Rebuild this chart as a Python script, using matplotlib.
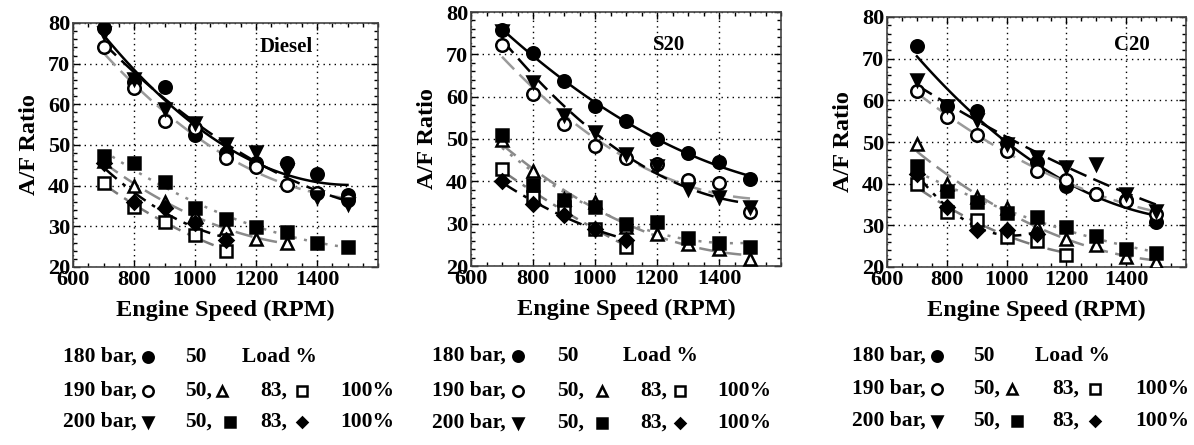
import numpy as np
import matplotlib.pyplot as plt
from matplotlib.lines import Line2D
from matplotlib.ticker import MultipleLocator

plt.rcParams["font.family"] = ["Liberation Serif", "DejaVu Serif"]
plt.rcParams["font.weight"] = "bold"

W, H = 1194, 445

# engine speed points
rpm_full = [700, 800, 900, 1000, 1100, 1200, 1300, 1400, 1500]
rpm_low = [700, 800, 900, 1000, 1100]
rpm_c20_sq = [700, 800, 900, 1000, 1100, 1200]

# Diesel
diesel_180_50 = [78.8, 65.5, 64.2, 52.5, 48.0, 45.5, 45.5, 42.9, 37.7]
diesel_190_50 = [74.0, 64.0, 55.8, 54.1, 46.7, 44.7, 40.1, 38.3, 36.5]
diesel_200_50 = [77.5, 66.2, 58.8, 55.3, 50.3, 48.4, 43.8, 37.3, 35.6]
diesel_190_83 = [46.0, 40.0, 36.0, 32.8, 29.6, 27.0, 25.8]
diesel_190_100 = [40.7, 34.8, 31.1, 27.8, 24.0]
diesel_200_83 = [47.3, 45.5, 41.0, 34.4, 31.9, 29.9, 28.6, 25.9, 24.8]
diesel_200_100 = [45.5, 36.0, 34.4, 30.7, 26.6]

# S20
s20_180_50 = [75.8, 70.4, 63.6, 57.7, 54.3, 49.9, 46.7, 44.6, 40.5]
s20_190_50 = [72.1, 60.7, 53.5, 48.3, 45.4, 44.0, 40.2, 39.7, 32.8]
s20_200_50 = [75.5, 63.5, 55.7, 51.7, 46.5, 43.6, 38.3, 36.3, 34.0]
s20_190_83 = [49.7, 42.5, 35.9, 35.0, 29.2, 27.6, 25.3, 24.0, 21.7]
s20_190_100 = [43.0, 36.3, 33.9, 28.8, 24.6]
s20_200_83 = [50.9, 39.2, 35.5, 33.9, 30.0, 30.4, 26.5, 25.5, 24.5]
s20_200_100 = [40.0, 34.7, 32.0, 28.8, 26.2]

# C20
c20_180_50 = [73.0, 58.6, 57.4, 49.8, 45.2, 39.4, 37.6, 36.0, 30.8]
c20_190_50 = [62.2, 56.0, 51.6, 47.8, 43.0, 40.8, 37.4, 35.8, 32.8]
c20_200_50 = [64.8, 58.6, 55.2, 49.6, 46.4, 44.0, 44.8, 37.6, 33.4]
c20_190_83 = [49.4, 40.0, 36.8, 34.2, 29.6, 26.8, 25.2, 22.4, 21.2]
c20_190_100 = [39.8, 33.2, 31.2, 27.2, 26.2, 22.8]
c20_200_83 = [44.2, 38.2, 35.6, 33.0, 32.0, 29.6, 27.4, 24.4, 23.4]
c20_200_100 = [42.4, 34.4, 28.8, 28.8, 28.0]

panels = [
    ("Diesel", (1300, 74), [
        ("180_50", rpm_full, diesel_180_50),
        ("190_50", rpm_full, diesel_190_50),
        ("200_50", rpm_full, diesel_200_50),
        ("190_83", rpm_full[:7], diesel_190_83),
        ("190_100", rpm_low, diesel_190_100),
        ("200_83", rpm_full, diesel_200_83),
        ("200_100", rpm_low, diesel_200_100),
    ]),
    ("S20", (1240, 72.2), [
        ("180_50", rpm_full, s20_180_50),
        ("190_50", rpm_full, s20_190_50),
        ("200_50", rpm_full, s20_200_50),
        ("190_83", rpm_full, s20_190_83),
        ("190_100", rpm_low, s20_190_100),
        ("200_83", rpm_full, s20_200_83),
        ("200_100", rpm_low, s20_200_100),
    ]),
    ("C20", (1420, 73.3), [
        ("180_50", rpm_full, c20_180_50),
        ("190_50", rpm_full, c20_190_50),
        ("200_50", rpm_full, c20_200_50),
        ("190_83", rpm_full, c20_190_83),
        ("190_100", rpm_c20_sq, c20_190_100),
        ("200_83", rpm_full, c20_200_83),
        ("200_100", rpm_low, c20_200_100),
    ]),
]

# marker / fit-line styles
styles = {
    "180_50": dict(marker="o", mfc="black", ms=9, color="black", ls="-", dashes=None),
    "190_50": dict(marker="o", mfc="white", ms=9, color="#9a9a9a", ls="--", dashes=(7, 3)),
    "200_50": dict(marker="v", mfc="black", ms=9, color="black", ls="--", dashes=(7, 3)),
    "190_83": dict(marker="^", mfc="white", ms=8, color="#8a8a8a", ls="--", dashes=(7, 3)),
    "190_100": dict(marker="s", mfc="white", ms=8, color="#7a7a7a", ls="-.", dashes=(7, 3, 1.5, 3)),
    "200_83": dict(marker="s", mfc="black", ms=8, color="#8a8a8a", ls=":", dashes=(1.2, 3)),
    "200_100": dict(marker="D", mfc="black", ms=7, color="black", ls="-.", dashes=(7, 3, 1.5, 3)),
}

axes_px = [(73, 23, 378, 267), (471, 12, 781, 266), (887, 17, 1186, 267)]

fig = plt.figure(figsize=(W / 100, H / 100), dpi=100)

for (name, txt_pos, series), (x0, y0, x1, y1) in zip(panels, axes_px):
    ax = fig.add_axes([x0 / W, 1 - y1 / H, (x1 - x0) / W, (y1 - y0) / H])
    for key, xs, ys in series:
        st = styles[key]
        xs = np.array(xs, dtype=float)
        ys = np.array(ys, dtype=float)
        coef = np.polyfit(xs, ys, 2)
        xf = np.linspace(xs.min(), xs.max(), 100)
        line, = ax.plot(xf, np.polyval(coef, xf), color=st["color"], lw=1.8, ls=st["ls"], zorder=2)
        if st["dashes"] is not None:
            line.set_dashes(st["dashes"])
        ax.plot(xs, ys, ls="none", marker=st["marker"], ms=st["ms"], mfc=st["mfc"],
                mec="black", mew=1.8, zorder=3)
    ax.set_xlim(600, 1600)
    ax.set_ylim(20, 80)
    ax.xaxis.set_major_locator(MultipleLocator(200))
    ax.xaxis.set_minor_locator(MultipleLocator(50))
    ax.yaxis.set_major_locator(MultipleLocator(10))
    ax.yaxis.set_minor_locator(MultipleLocator(2))
    ax.set_xticks([600, 800, 1000, 1200, 1400])
    ax.tick_params(which="both", direction="in", top=True, right=True, labelsize=16, pad=2)
    ax.tick_params(which="major", length=5, width=1)
    ax.tick_params(which="minor", length=3, width=1)
    ax.grid(True, which="major", color="black", ls=(0, (1, 3)), lw=1)
    for sp in ax.spines.values():
        sp.set_color("#444444")
        sp.set_linewidth(1.2)
    for lab in ax.get_xticklabels() + ax.get_yticklabels():
        lab.set_fontweight("bold")
    ax.set_xlabel("Engine Speed (RPM)", fontsize=17.5, fontweight="bold", labelpad=7)
    ax.set_ylabel("A/F Ratio", fontsize=17.5, fontweight="bold", labelpad=6)
    ax.text(txt_pos[0], txt_pos[1], name, fontsize=15, fontweight="bold", ha="center", va="center")

# legend blocks under each panel (pixel positions of each column)
legend_cols = [
    dict(lab=63, m1=148, c50=185, load=242, m2a=222, m2b=230, c83=260, m3=302, c100=340, rows=(357, 391, 422)),
    dict(lab=432, m1=518, c50=557, load=623, m2a=602, m2b=602, c83=640, m3=680, c100=717, rows=(356, 391, 423)),
    dict(lab=852, m1=937, c50=973, load=1035, m2a=1012, m2b=1017, c83=1052, m3=1095, c100=1135, rows=(356, 389, 421)),
]


def ftext(x, y, s):
    fig.text(x / W, 1 - y / H, s, fontsize=15.5, fontweight="bold", ha="left", va="center")


def fmark(x, y, key):
    st = styles[key]
    fig.add_artist(Line2D([x / W], [1 - y / H], ls="none", marker=st["marker"], ms=st["ms"] - 1.5,
                          mfc=st["mfc"], mec="black", mew=1.8, transform=fig.transFigure))


for c in legend_cols:
    r1, r2, r3 = c["rows"]
    ftext(c["lab"], r1, "180 bar,")
    fmark(c["m1"], r1, "180_50")
    ftext(c["c50"], r1, "50")
    ftext(c["load"], r1, "Load %")
    ftext(c["lab"], r2, "190 bar,")
    fmark(c["m1"], r2, "190_50")
    ftext(c["c50"], r2, "50,")
    fmark(c["m2a"], r2, "190_83")
    ftext(c["c83"], r2, "83,")
    fmark(c["m3"], r2, "190_100")
    ftext(c["c100"], r2, "100%")
    ftext(c["lab"], r3, "200 bar,")
    fmark(c["m1"], r3, "200_50")
    ftext(c["c50"], r3, "50,")
    fmark(c["m2b"], r3, "200_83")
    ftext(c["c83"], r3, "83,")
    fmark(c["m3"], r3, "200_100")
    ftext(c["c100"], r3, "100%")

fig.savefig("out.png", dpi=100)
